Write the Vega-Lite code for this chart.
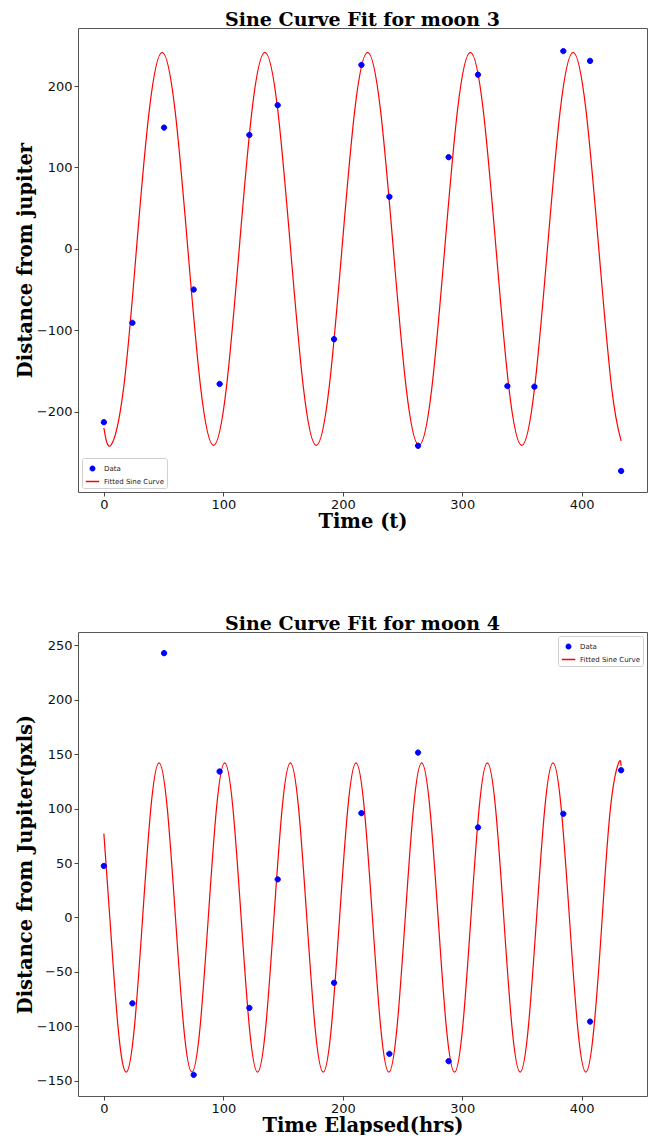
{
  "$schema": "https://vega.github.io/schema/vega-lite/v6.json",
  "padding": {"left": 14, "top": 10, "right": 3, "bottom": 0},
  "spacing": 83,
  "background": "white",
  "config": {
    "view": {"stroke": "#555", "strokeWidth": 1},
    "font": "DejaVu Sans",
    "axis": {"grid": false, "domain": false, "tickColor": "#444", "tickSize": 4, "labelFont": "DejaVu Sans", "labelFontSize": 13, "labelColor": "#111", "labelPadding": 2, "titleFont": "DejaVu Serif", "titleFontWeight": "bold", "titleFontSize": 19.5, "titleColor": "black", "titlePadding": 1},
    "title": {"font": "DejaVu Serif", "fontWeight": "bold", "fontSize": 19, "color": "black", "offset": -2},
    "legend": {"labelFont": "DejaVu Sans", "labelFontSize": 7, "labelColor": "#222", "fillColor": "white", "strokeColor": "#d0d0d0", "padding": 3, "cornerRadius": 2, "rowPadding": 0, "offset": 4, "symbolSize": 180, "symbolStrokeWidth": 1.5, "labelOffset": 4}
  },
  "resolve": {"scale": {"color": "independent", "shape": "independent"}, "legend": {"color": "independent", "shape": "independent"}},
  "datasets": {
    "m3pts": [
      {"t": 0, "d": -213}, {"t": 23.9, "d": -90.9}, {"t": 50.4, "d": 149}, {"t": 75.2, "d": -50},
      {"t": 96.9, "d": -166}, {"t": 121.8, "d": 140}, {"t": 145.5, "d": 176.6}, {"t": 192.7, "d": -111},
      {"t": 215.6, "d": 226}, {"t": 239, "d": 64}, {"t": 263, "d": -242}, {"t": 288.6, "d": 112.7},
      {"t": 313.2, "d": 214}, {"t": 337.8, "d": -168.6}, {"t": 360.4, "d": -169.4}, {"t": 384.6, "d": 243},
      {"t": 407, "d": 231}, {"t": 433, "d": -273}
    ],
    "m3fit": [
      {"t": 0, "d": -220}, {"t": 5.8, "d": -241.5}, {"t": 16.55, "d": -170.8}, {"t": 27.3, "d": 0},
      {"t": 38.05, "d": 170.8}, {"t": 48.8, "d": 241.5}, {"t": 59.55, "d": 170.8}, {"t": 70.3, "d": 0},
      {"t": 81.05, "d": -170.8}, {"t": 91.8, "d": -241.5}, {"t": 102.55, "d": -170.8}, {"t": 113.3, "d": 0},
      {"t": 124.05, "d": 170.8}, {"t": 134.8, "d": 241.5}, {"t": 145.55, "d": 170.8}, {"t": 156.3, "d": 0},
      {"t": 167.05, "d": -170.8}, {"t": 177.8, "d": -241.5}, {"t": 188.55, "d": -170.8}, {"t": 199.3, "d": 0},
      {"t": 210.05, "d": 170.8}, {"t": 220.8, "d": 241.5}, {"t": 231.55, "d": 170.8}, {"t": 242.3, "d": 0},
      {"t": 253.05, "d": -170.8}, {"t": 263.8, "d": -241.5}, {"t": 274.55, "d": -170.8}, {"t": 285.3, "d": 0},
      {"t": 296.05, "d": 170.8}, {"t": 306.8, "d": 241.5}, {"t": 317.55, "d": 170.8}, {"t": 328.3, "d": 0},
      {"t": 339.05, "d": -170.8}, {"t": 349.8, "d": -241.5}, {"t": 360.55, "d": -170.8}, {"t": 371.3, "d": 0},
      {"t": 382.05, "d": 170.8}, {"t": 392.8, "d": 241.5}, {"t": 403.55, "d": 170.8}, {"t": 414.3, "d": 0},
      {"t": 425.05, "d": -170.8}, {"t": 433, "d": -236}
    ],
    "m4pts": [
      {"t": 0, "d": 47.3}, {"t": 23.9, "d": -78.8}, {"t": 50.4, "d": 242.7}, {"t": 75.2, "d": -144.5},
      {"t": 96.9, "d": 134}, {"t": 121.8, "d": -83}, {"t": 145.5, "d": 35}, {"t": 192.7, "d": -60},
      {"t": 215.6, "d": 95.8}, {"t": 239, "d": -125.2}, {"t": 263, "d": 151.4}, {"t": 288.6, "d": -131.9},
      {"t": 313.2, "d": 82.7}, {"t": 384.6, "d": 95.2}, {"t": 407, "d": -95.6}, {"t": 433, "d": 135.2}
    ],
    "m4fit": [
      {"t": 0, "d": 77}, {"t": 4.98, "d": 0}, {"t": 11.85, "d": -100.4}, {"t": 18.72, "d": -142},
      {"t": 25.59, "d": -100.4}, {"t": 32.46, "d": 0}, {"t": 39.33, "d": 100.4}, {"t": 46.2, "d": 142},
      {"t": 53.07, "d": 100.4}, {"t": 59.94, "d": 0}, {"t": 66.81, "d": -100.4}, {"t": 73.68, "d": -142},
      {"t": 80.55, "d": -100.4}, {"t": 87.42, "d": 0}, {"t": 94.29, "d": 100.4}, {"t": 101.16, "d": 142},
      {"t": 108.03, "d": 100.4}, {"t": 114.9, "d": 0}, {"t": 121.77, "d": -100.4}, {"t": 128.64, "d": -142},
      {"t": 135.51, "d": -100.4}, {"t": 142.38, "d": 0}, {"t": 149.25, "d": 100.4}, {"t": 156.12, "d": 142},
      {"t": 162.99, "d": 100.4}, {"t": 169.86, "d": 0}, {"t": 176.73, "d": -100.4}, {"t": 183.6, "d": -142},
      {"t": 190.47, "d": -100.4}, {"t": 197.34, "d": 0}, {"t": 204.21, "d": 100.4}, {"t": 211.08, "d": 142},
      {"t": 217.95, "d": 100.4}, {"t": 224.82, "d": 0}, {"t": 231.69, "d": -100.4}, {"t": 238.56, "d": -142},
      {"t": 245.43, "d": -100.4}, {"t": 252.3, "d": 0}, {"t": 259.17, "d": 100.4}, {"t": 266.04, "d": 142},
      {"t": 272.91, "d": 100.4}, {"t": 279.78, "d": 0}, {"t": 286.65, "d": -100.4}, {"t": 293.52, "d": -142},
      {"t": 300.39, "d": -100.4}, {"t": 307.26, "d": 0}, {"t": 314.13, "d": 100.4}, {"t": 321.0, "d": 142},
      {"t": 327.87, "d": 100.4}, {"t": 334.74, "d": 0}, {"t": 341.61, "d": -100.4}, {"t": 348.48, "d": -142},
      {"t": 355.35, "d": -100.4}, {"t": 362.22, "d": 0}, {"t": 369.09, "d": 100.4}, {"t": 375.96, "d": 142},
      {"t": 382.83, "d": 100.4}, {"t": 389.7, "d": 0}, {"t": 396.57, "d": -100.4}, {"t": 403.44, "d": -142},
      {"t": 410.31, "d": -100.4}, {"t": 417.18, "d": 0}, {"t": 424.05, "d": 100.4}, {"t": 430.92, "d": 142},
      {"t": 433, "d": 139}
    ]
  },
  "vconcat": [
    {
      "width": 569, "height": 464,
      "title": {"text": "Sine Curve Fit for moon 3"},
      "layer": [
        {
          "data": {"name": "m3fit"},
          "mark": {"type": "line", "color": "#ff0000", "strokeWidth": 1.2, "interpolate": "natural"},
          "encoding": {
            "x": {"field": "t", "type": "quantitative", "scale": {"domain": [-21.65, 454.65], "nice": false, "zero": false}, "axis": {"values": [0, 100, 200, 300, 400], "title": "Time (t)"}},
            "y": {"field": "d", "type": "quantitative", "scale": {"domain": [-298.8, 271.4], "nice": false, "zero": false}, "axis": {"values": [-200, -100, 0, 100, 200], "title": "Distance from jupiter"}}
          }
        },
        {
          "data": {"name": "m3pts"},
          "mark": {"type": "point", "filled": false, "fill": "#0000ff", "fillOpacity": 1, "strokeWidth": 1, "size": 260, "opacity": 1},
          "encoding": {
            "x": {"field": "t", "type": "quantitative"},
            "y": {"field": "d", "type": "quantitative"},
            "color": {"datum": "Data", "type": "nominal", "scale": {"domain": ["Data", "Fitted Sine Curve"], "range": ["#0000ff", "#ff0000"]},
              "legend": {"title": null, "orient": "bottom-left"}},
            "shape": {"datum": "Data", "type": "nominal", "scale": {"domain": ["Data", "Fitted Sine Curve"], "range": ["M0.33,0A0.33,0.33,0,1,1,-0.33,0A0.33,0.33,0,1,1,0.33,0Z", "M-1,0L1,0"]},
              "legend": {"title": null, "orient": "bottom-left"}}
          }
        }
      ]
    },
    {
      "width": 569, "height": 464,
      "title": {"text": "Sine Curve Fit for moon 4"},
      "layer": [
        {
          "data": {"name": "m4fit"},
          "mark": {"type": "line", "color": "#ff0000", "strokeWidth": 1.2, "interpolate": "natural"},
          "encoding": {
            "x": {"field": "t", "type": "quantitative", "scale": {"domain": [-21.65, 454.65], "nice": false, "zero": false}, "axis": {"values": [0, 100, 200, 300, 400], "title": "Time Elapsed(hrs)"}},
            "y": {"field": "d", "type": "quantitative", "scale": {"domain": [-163.9, 262.1], "nice": false, "zero": false}, "axis": {"values": [-150, -100, -50, 0, 50, 100, 150, 200, 250], "title": "Distance from Jupiter(pxls)"}}
          }
        },
        {
          "data": {"name": "m4pts"},
          "mark": {"type": "point", "filled": false, "fill": "#0000ff", "fillOpacity": 1, "strokeWidth": 1, "size": 260, "opacity": 1},
          "encoding": {
            "x": {"field": "t", "type": "quantitative"},
            "y": {"field": "d", "type": "quantitative"},
            "color": {"datum": "Data", "type": "nominal", "scale": {"domain": ["Data", "Fitted Sine Curve"], "range": ["#0000ff", "#ff0000"]},
              "legend": {"title": null, "orient": "top-right"}},
            "shape": {"datum": "Data", "type": "nominal", "scale": {"domain": ["Data", "Fitted Sine Curve"], "range": ["M0.33,0A0.33,0.33,0,1,1,-0.33,0A0.33,0.33,0,1,1,0.33,0Z", "M-1,0L1,0"]},
              "legend": {"title": null, "orient": "top-right"}}
          }
        }
      ]
    }
  ]
}
